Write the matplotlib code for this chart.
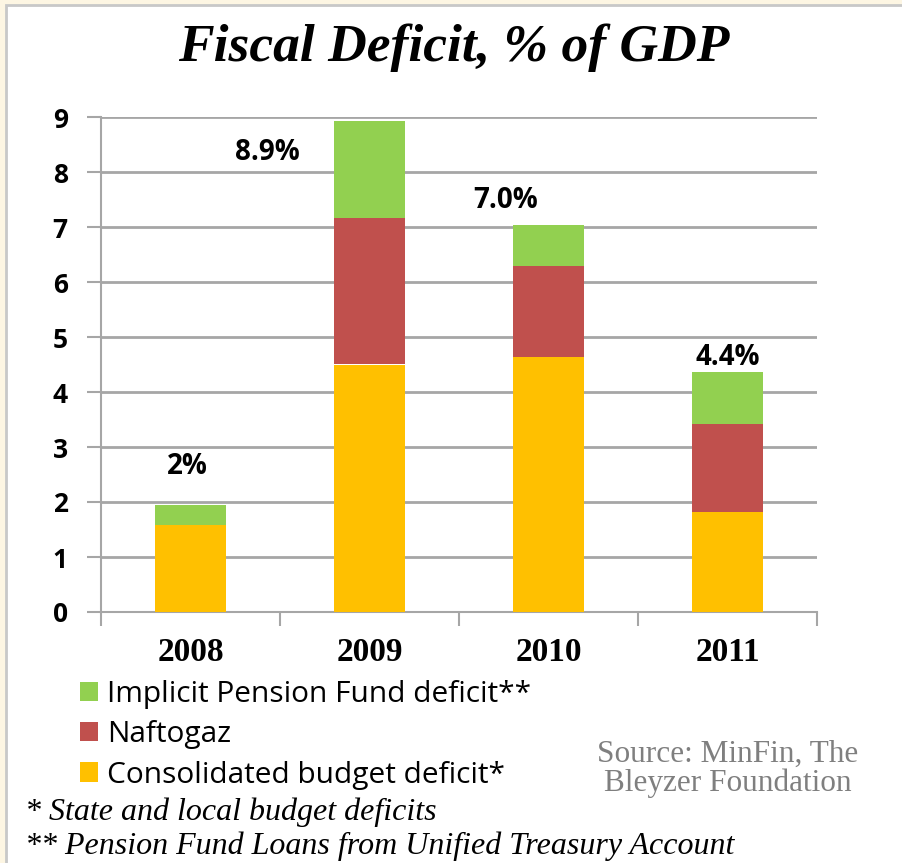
import matplotlib.pyplot as plt
from matplotlib.patches import Rectangle

years = ["2008", "2009", "2010", "2011"]
consolidated = [1.58, 4.50, 4.63, 1.81]
naftogaz = [0.0, 2.67, 1.67, 1.60]
pension = [0.37, 1.75, 0.74, 0.95]
total_labels = ["2%", "8.9%", "7.0%", "4.4%"]
label_pos = [(-0.02, 2.64), (0.43, 8.35), (1.76, 7.49), (3.0, 4.62)]

c_cons = "#FFC000"
c_naft = "#C0504D"
c_pens = "#92D050"
grid_c = "#A6A6A6"

fig = plt.figure(figsize=(9.02, 8.63), dpi=100)
fig.patch.set_facecolor("#FDF6E3")
# white panel with grey border
fig.patches.append(Rectangle((6 / 902, -0.01), 1.0, 1 - 5 / 863 + 0.01,
                             transform=fig.transFigure, facecolor="white",
                             edgecolor="#C8C8C8", linewidth=2, zorder=-5))

ax = fig.add_axes([101 / 902, 1 - 612 / 863, 716 / 902, 495 / 863])
ax.patch.set_alpha(0)
x = list(range(len(years)))
w = 0.40
bottom2 = consolidated
bottom3 = [a + b for a, b in zip(consolidated, naftogaz)]
b1 = ax.bar(x, consolidated, w, color=c_cons, zorder=3, label="Consolidated budget deficit*")
b2 = ax.bar(x, naftogaz, w, bottom=bottom2, color=c_naft, zorder=3, label="Naftogaz")
b3 = ax.bar(x, pension, w, bottom=bottom3, color=c_pens, zorder=3,
            label="Implicit Pension Fund deficit**")

for (lx, ly), t in zip(label_pos, total_labels):
    ax.text(lx, ly, t, ha="center", va="center", fontsize=20, fontweight="bold",
            family="Open Sans")

ax.set_xlim(-0.5, 3.5)
ax.set_ylim(0, 9)
ax.set_yticks(range(10))
ax.set_yticklabels([str(i) for i in range(10)], fontsize=19, fontweight="bold",
                   family="Open Sans")
ax.set_xticks(x)
ax.set_xticklabels(years, fontsize=24, fontweight="bold", family="Liberation Serif")
ax.set_xticks([-0.5, 0.5, 1.5, 2.5, 3.5], minor=True)
ax.tick_params(axis="x", which="major", length=0, pad=18)
ax.tick_params(axis="x", which="minor", length=10, width=1.5, color=grid_c, direction="out")
ax.tick_params(axis="y", length=10, width=1.5, color=grid_c, pad=14)
ax.grid(axis="y", color=grid_c, linewidth=2, zorder=0)
ax.set_axisbelow(True)
for s in ["top", "right"]:
    ax.spines[s].set_visible(False)
for s in ["left", "bottom"]:
    ax.spines[s].set_color(grid_c)
    ax.spines[s].set_linewidth(1.5)

fig.text(454 / 902, 1 - 48 / 863, "Fiscal Deficit, % of GDP", ha="center", va="center",
         fontsize=38.5, fontweight="bold", style="italic", family="Liberation Serif")

leg = fig.legend(handles=[b3, b2, b1], loc="upper left",
                 bbox_to_anchor=(53 / 902, 1 - 653 / 863), frameon=False,
                 prop={"family": "Open Sans", "size": 21.5},
                 handlelength=0.62, handleheight=0.62, handletextpad=0.3,
                 labelspacing=0.38)

fig.text(728 / 902, 1 - 769 / 863, "Source: MinFin, The\nBleyzer Foundation",
         ha="center", va="center", fontsize=22.5, color="#7F7F7F",
         family="Liberation Serif", linespacing=0.95)

fig.text(25 / 902, 1 - 812 / 863, "* State and local budget deficits", ha="left",
         va="center", fontsize=23, style="italic", family="Liberation Serif")
fig.text(25 / 902, 1 - 846 / 863, "** Pension Fund Loans from Unified Treasury Account",
         ha="left", va="center", fontsize=23, style="italic", family="Liberation Serif")

fig.savefig("out.png", dpi=100, facecolor=fig.get_facecolor())
